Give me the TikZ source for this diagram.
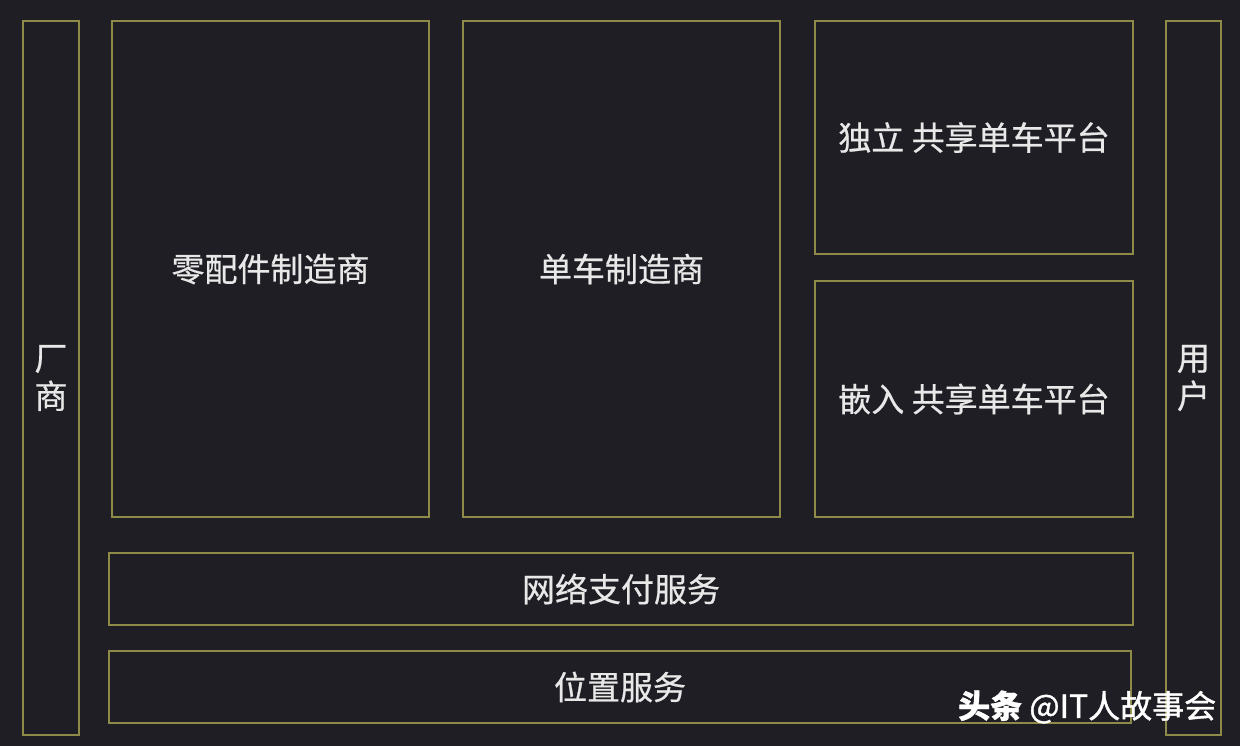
\documentclass[tikz,border=0pt]{standalone}
\usepackage{fontspec}
\setmainfont{Noto Sans CJK SC}
\newfontfamily\cjk[FakeBold=0.6]{Noto Sans CJK SC}
\newfontfamily\cjkw[FakeBold=1.2]{Noto Sans CJK SC}
\definecolor{bg}{HTML}{1E1E24}
\definecolor{frame}{HTML}{8E8B48}
\definecolor{txt}{HTML}{E8E8E8}
\begin{document}
\begin{tikzpicture}[x=1pt,y=-1pt,
  box/.style={draw=frame, line width=2pt, fill=bg, text=txt, anchor=north west,
    inner sep=0pt, font=\cjk\fontsize{33}{38}\selectfont, align=center},
  wmark/.style={text=white, font=\cjkw\fontsize{32}{36}\selectfont, inner sep=0pt}]
\fill[bg] (0,0) rectangle (1240,746);
\useasboundingbox (0,0) rectangle (1240,746);
\node[box, minimum width=56pt, minimum height=714pt] (changshang) at (22,20) {厂\\商};
\node[box, minimum width=317pt, minimum height=496pt] (lingpei) at (111,20) {零配件制造商};
\node[box, minimum width=317pt, minimum height=496pt] (danche) at (462,20) {单车制造商};
\node[box, minimum width=318pt, minimum height=233pt] (duli) at (814,20) {独立 共享单车平台};
\node[box, minimum width=318pt, minimum height=236pt] (qianru) at (814,280) {嵌入 共享单车平台};
\node[box, minimum width=1024pt, minimum height=72pt] (zhifu) at (108,552) {网络支付服务};
\node[box, minimum width=1022pt, minimum height=72pt] (weizhi) at (108,650) {位置服务};
\node[box, minimum width=55pt, minimum height=714pt] (yonghu) at (1165,20) {用\\户};
\node[wmark, anchor=west] (wm) at (958,707) {{\bfseries 头条} @IT人故事会};
\end{tikzpicture}
\end{document}
